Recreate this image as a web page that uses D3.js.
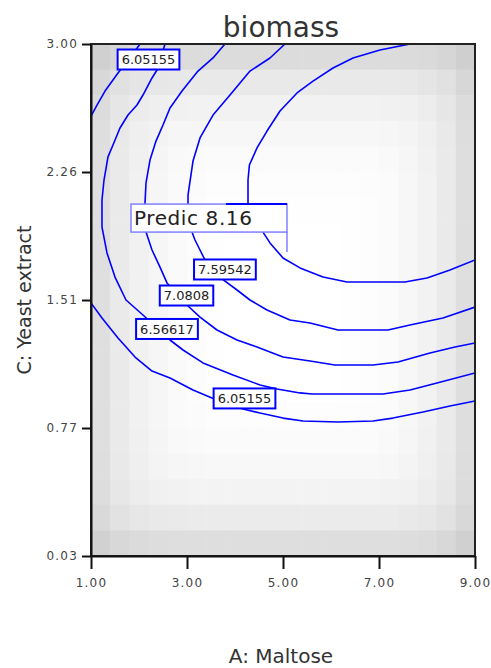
<!DOCTYPE html>
<html>
<head>
<meta charset="utf-8">
<script src="https://cdn.jsdelivr.net/npm/d3@7"></script>
<style>
  html, body { margin: 0; padding: 0; background: #ffffff; }
  svg { display: block; }
</style>
</head>
<body>
<svg id="chart" width="491" height="668"></svg>
<script>
// ---------------- data ----------------
const title = "biomass";
const xLabel = "A: Maltose";
const yLabel = "C: Yeast extract";

const xDomain = [1.00, 9.00];
const yDomain = [0.03, 3.00];
const xTickValues = [1, 3, 5, 7, 9];
const xTickLabels = ["1.00", "3.00", "5.00", "7.00", "9.00"];
const yTickValues = [0.03, 0.7725, 1.515, 2.2575, 3.00];
const yTickLabels = ["0.03", "0.77", "1.51", "2.26", "3.00"];

// contour levels
const levels = [6.05155, 6.56617, 7.0808, 7.59542, 8.11005];

// contour lines: [A, C]
const contour605Corner = [[1.00,2.582],[1.125,2.646],[1.292,2.727],[1.458,2.791],[1.5625,2.832],[1.8125,2.919],[2.021,3.00]];
const contour605 = [[1.00,1.498],[1.229,1.411],[1.5625,1.295],[1.917,1.184],[2.271,1.103],[2.646,1.063],[3.125,0.993],[3.521,0.947],[4.167,0.883],[4.521,0.859],[5.0,0.830],[5.417,0.813],[6.146,0.807],[6.875,0.813],[7.29,0.830],[7.917,0.865],[8.479,0.900],[9.0,0.929]];
const contour656 = [[2.542,3.00],[2.375,2.849],[2.271,2.803],[2.083,2.704],[1.958,2.646],[1.771,2.588],[1.604,2.513],[1.458,2.414],[1.354,2.345],[1.271,2.211],[1.229,2.095],[1.229,1.938],[1.333,1.788],[1.5,1.648],[1.729,1.515],[2.083,1.428],[2.646,1.283],[2.917,1.225],[3.333,1.150],[3.958,1.080],[4.521,1.022],[4.875,0.999],[5.354,0.976],[5.604,0.970],[7.083,0.970],[7.646,0.993],[8.208,1.034],[9.0,1.092]];
const contour708 = [[3.79,3.00],[3.542,2.919],[3.229,2.843],[2.896,2.727],[2.646,2.629],[2.5,2.530],[2.354,2.437],[2.229,2.327],[2.146,2.194],[2.125,2.078],[2.146,1.909],[2.271,1.805],[2.4375,1.706],[2.583,1.614],[3.021,1.480],[3.271,1.416],[3.625,1.341],[4.042,1.283],[4.458,1.242],[5.0,1.184],[5.5625,1.161],[6.083,1.138],[6.875,1.138],[7.396,1.155],[8.0625,1.208],[8.583,1.242],[9.0,1.266]];
const contour759 = [[5.042,3.00],[4.729,2.919],[4.3125,2.843],[3.896,2.704],[3.542,2.588],[3.271,2.455],[3.125,2.321],[3.021,2.124],[3.021,2.078],[3.104,1.909],[3.167,1.863],[3.271,1.805],[3.375,1.747],[3.729,1.637],[4.042,1.573],[4.3125,1.515],[4.667,1.457],[5.146,1.399],[5.5625,1.382],[6.146,1.341],[7.1875,1.341],[7.646,1.370],[8.333,1.411],[9.0,1.474]];
const contour811 = [[7.646,3.00],[7.02,2.965],[6.458,2.919],[6.042,2.861],[5.625,2.785],[5.292,2.716],[4.9375,2.611],[4.667,2.495],[4.458,2.397],[4.30,2.298],[4.271,2.211],[4.271,2.078],[4.45,1.950],[4.583,1.909],[4.729,1.846],[5.0,1.759],[5.354,1.701],[5.833,1.648],[6.333,1.619],[7.54,1.619],[8.0,1.643],[8.479,1.689],[9.0,1.747]];

const contourLines = [contour605Corner, contour605, contour656, contour708, contour759, contour811];

// contour labels
const labelTexts = ["6.05155", "6.56617", "7.0808", "7.59542", "6.05155"];
const labelA = [2.198, 2.583, 2.99, 3.79, 4.198];
const labelC = [2.910, 1.347, 1.541, 1.692, 0.944];

// prediction flag
const predText = "Predic 8.16";
const predPoint = [5.083, 1.793];

// background shading (darkness, 0 = white)
const shadeCols = [32, 21, 14, 9, 5, 3, 1, 0, 0, 0, 0, 0, 0, 1, 2, 4, 8, 13, 21, 33];
const shadeRows = [35, 22, 13, 8, 4, 2, 1, 0, 0, 0, 0, 0, 0, 0, 2, 4, 7, 12, 20, 33];

// ---------------- drawing ----------------
const svg = d3.select("#chart");
const x = d3.scaleLinear().domain(xDomain).range([91, 475]);
const y = d3.scaleLinear().domain(yDomain).range([556, 44]);

const FONT = "'DejaVu Sans', Verdana, sans-serif";

// shading cells
const nc = shadeCols.length, nr = shadeRows.length;
const cw = (xDomain[1] - xDomain[0]) / nc;
const rh = (yDomain[1] - yDomain[0]) / nr;
const cells = [];
shadeRows.forEach((dr, j) => {
  shadeCols.forEach((dc, i) => {
    cells.push({ a0: xDomain[0] + i * cw, a1: xDomain[0] + (i + 1) * cw,
                 c1: yDomain[1] - j * rh, c0: yDomain[1] - (j + 1) * rh,
                 g: Math.round(255 - Math.hypot(dc, dr)) });
  });
});
svg.append("g").selectAll("rect").data(cells).join("rect")
  .attr("x", d => x(d.a0))
  .attr("y", d => y(d.c1))
  .attr("width", d => x(d.a1) - x(d.a0) + 0.5)
  .attr("height", d => y(d.c0) - y(d.c1) + 0.5)
  .attr("fill", d => d3.rgb(d.g, d.g, d.g));

// contour lines
const line = d3.line().x(d => x(d[0])).y(d => y(d[1]));
const clip = svg.append("clipPath").attr("id", "plotclip").append("rect")
  .attr("x", x(xDomain[0])).attr("y", y(yDomain[1]))
  .attr("width", x(xDomain[1]) - x(xDomain[0])).attr("height", y(yDomain[0]) - y(yDomain[1]));
svg.append("g").attr("clip-path", "url(#plotclip)")
  .selectAll("path").data(contourLines).join("path")
  .attr("d", line)
  .attr("fill", "none")
  .attr("stroke", "#0000ff")
  .attr("stroke-width", 1.6)
  .attr("stroke-linejoin", "round");

// contour labels
const lg = svg.append("g");
labelTexts.forEach((t, i) => {
  const g = lg.append("g").attr("transform", `translate(${x(labelA[i])},${y(labelC[i])})`);
  const rect = g.append("rect");
  const txt = g.append("text")
    .attr("text-anchor", "middle").attr("dy", "0.36em")
    .attr("font-family", FONT).attr("font-size", 13)
    .attr("fill", "#222").text(t);
  const w = txt.node().getComputedTextLength() + 8;
  rect.attr("x", -w / 2).attr("y", -10).attr("width", w).attr("height", 20)
    .attr("fill", "#ffffff").attr("stroke", "#0000ff").attr("stroke-width", 2);
});

// prediction flag
const px = x(predPoint[0]), py = y(predPoint[1]);
const fg = svg.append("g");
fg.append("line").attr("x1", px).attr("x2", px).attr("y1", py - 20).attr("y2", py)
  .attr("stroke", "#8080ff").attr("stroke-width", 1.5);
fg.append("rect").attr("x", px - 156).attr("y", py - 48).attr("width", 156).attr("height", 28)
  .attr("fill", "#ffffff").attr("stroke", "#8080ff").attr("stroke-width", 1.5);
fg.append("line").attr("x1", px - 61).attr("x2", px).attr("y1", py - 48).attr("y2", py - 48)
  .attr("stroke", "#0000ff").attr("stroke-width", 2);
fg.append("text").attr("x", px - 153).attr("y", py - 27)
  .attr("font-family", FONT).attr("font-size", 20).attr("fill", "#222")
  .attr("letter-spacing", 0.6).text(predText);

// frame
svg.append("rect")
  .attr("x", x(xDomain[0])).attr("y", y(yDomain[1]))
  .attr("width", x(xDomain[1]) - x(xDomain[0])).attr("height", y(yDomain[0]) - y(yDomain[1]))
  .attr("fill", "none").attr("stroke", "#222").attr("stroke-width", 2);

// axes
const xAxis = d3.axisBottom(x).tickValues(xTickValues)
  .tickFormat((d, i) => xTickLabels[i]).tickSize(13).tickSizeOuter(0);
const gx = svg.append("g").attr("transform", `translate(0,${y(yDomain[0])})`).call(xAxis);
gx.select(".domain").attr("stroke", "#111").attr("stroke-width", 2);
gx.selectAll(".tick line").attr("stroke", "#111").attr("stroke-width", 2);
gx.selectAll(".tick text").attr("font-family", FONT).attr("font-size", 12)
  .attr("letter-spacing", 1.2).attr("fill", "#444").attr("y", 22);

const yAxis = d3.axisLeft(y).tickValues(yTickValues)
  .tickFormat((d, i) => yTickLabels[i]).tickSize(9).tickSizeOuter(0);
const gy = svg.append("g").attr("transform", `translate(${x(xDomain[0])},0)`).call(yAxis);
gy.select(".domain").attr("stroke", "#111").attr("stroke-width", 2);
gy.selectAll(".tick line").attr("stroke", "#111").attr("stroke-width", 2);
gy.selectAll(".tick text").attr("font-family", FONT).attr("font-size", 12)
  .attr("letter-spacing", 1.2).attr("fill", "#444").attr("x", -13);

// title & labels
svg.append("text").attr("x", 281).attr("y", 37).attr("text-anchor", "middle")
  .attr("font-family", FONT).attr("font-size", 28).attr("fill", "#333").text(title);
svg.append("text").attr("x", 281).attr("y", 663).attr("text-anchor", "middle")
  .attr("font-family", FONT).attr("font-size", 20).attr("fill", "#333").text(xLabel);
svg.append("text").attr("transform", "translate(31,300) rotate(-90)").attr("text-anchor", "middle")
  .attr("font-family", FONT).attr("font-size", 19).attr("fill", "#333").text(yLabel);
</script>
</body>
</html>
